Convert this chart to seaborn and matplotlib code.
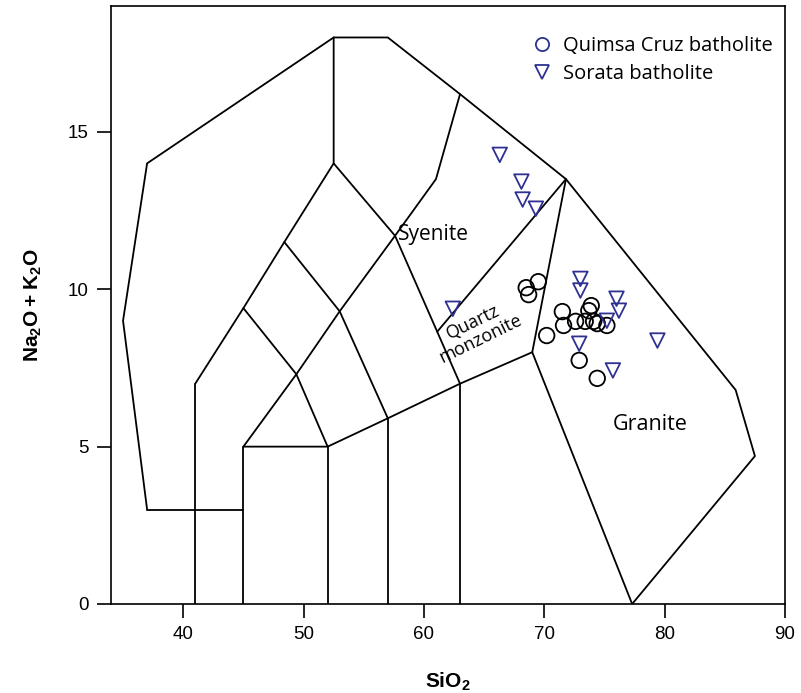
import matplotlib
matplotlib.use("Agg")
import matplotlib.pyplot as plt
from matplotlib.lines import Line2D
import seaborn as sns
import pandas as pd

# Quimsa Cruz batholite (SiO2, Na2O+K2O)
qc_sio2 = [68.5, 68.7, 69.5, 71.5, 71.6, 72.6, 73.4, 73.7, 73.9, 74.1, 74.4, 75.2, 70.2, 72.9, 74.4]
qc_alk = [10.05, 9.83, 10.24, 9.29, 8.85, 8.98, 8.98, 9.32, 9.48, 8.98, 8.91, 8.85, 8.53, 7.74, 7.17]

# Sorata batholite
so_sio2 = [66.3, 68.1, 68.2, 69.3, 62.4, 73.0, 73.0, 76.0, 76.2, 75.2, 72.9, 75.7, 79.4]
so_alk = [14.27, 13.42, 12.85, 12.56, 9.38, 10.33, 9.96, 9.70, 9.32, 9.00, 8.27, 7.42, 8.37]

# TAS (Middlemost 1994, plutonic) field boundaries
field_lines = [
    [(41, 0), (41, 7)],
    [(37, 3), (45, 3)],
    [(45, 0), (45, 5)],
    [(52, 0), (52, 5)],
    [(57, 0), (57, 5.9)],
    [(63, 0), (63, 7)],
    [(45, 5), (52, 5), (57, 5.9), (63, 7), (69, 8), (77.3, 0)],
    [(37, 3), (35, 9), (37, 14), (52.5, 18), (57, 18), (63, 16.2), (71.8, 13.5),
     (85.9, 6.8), (87.5, 4.7), (77.3, 0)],
    [(41, 7), (45, 9.4), (48.4, 11.5), (52.5, 14), (52.5, 18)],
    [(45, 5), (49.4, 7.3), (53, 9.3), (57.6, 11.7), (61, 13.5), (63, 16.2)],
    [(45, 9.4), (49.4, 7.3), (52, 5)],
    [(48.4, 11.5), (53, 9.3), (57, 5.9)],
    [(52.5, 14), (57.6, 11.7), (63, 7)],
    [(69, 8), (71.8, 13.5)],
    [(61.1, 8.65), (71.8, 13.5)],
]

navy = "#2e3192"

sns.set_style("ticks")
plt.rcParams["font.family"] = ["Liberation Sans", "DejaVu Sans"]
plt.rcParams["mathtext.fontset"] = "custom"
plt.rcParams["mathtext.rm"] = "Liberation Sans"
plt.rcParams["mathtext.bf"] = "Liberation Sans:bold"
plt.rcParams["text.color"] = "black"
plt.rcParams["axes.labelcolor"] = "black"
plt.rcParams["xtick.color"] = "black"
plt.rcParams["ytick.color"] = "black"
plt.rcParams["axes.edgecolor"] = "black"

fig = plt.figure(figsize=(8.01, 6.93), dpi=100)
ax = fig.add_axes([111 / 801, 1 - 604 / 693, 674 / 801, 598 / 693])

for seg in field_lines:
    xs, ys = zip(*seg)
    ax.plot(xs, ys, color="black", lw=1.3, solid_joinstyle="miter", zorder=1)

qc = pd.DataFrame({"SiO2": qc_sio2, "alk": qc_alk})
so = pd.DataFrame({"SiO2": so_sio2, "alk": so_alk})
sns.scatterplot(data=qc, x="SiO2", y="alk", marker="o", s=125, facecolor="none",
                edgecolor="black", linewidth=1.3, ax=ax, legend=False, zorder=3)
sns.scatterplot(data=so, x="SiO2", y="alk", marker="v", s=110, facecolor="none",
                edgecolor=navy, linewidth=1.3, ax=ax, legend=False, zorder=3)

lab_font = ["Open Sans", "DejaVu Sans"]
ax.text(60.8, 11.75, "Syenite", fontsize=15, ha="center", va="center", family=lab_font)
ax.text(78.8, 5.7, "Granite", fontsize=15.5, ha="center", va="center", family=lab_font)
ax.text(64.4, 8.7, "Quartz\nmonzonite", fontsize=13, ha="center", va="center",
        rotation=26, linespacing=1.05, family=lab_font, rotation_mode="anchor")

handles = [
    Line2D([], [], ls="none", marker="o", ms=9.5, mfc="none", mec=navy, mew=1.3),
    Line2D([], [], ls="none", marker="v", ms=9.5, mfc="none", mec=navy, mew=1.3),
]
ax.legend(handles, ["Quimsa Cruz batholite", "Sorata batholite"], loc="upper right",
          bbox_to_anchor=(1.0, 0.97), frameon=False,
          prop={"family": lab_font, "size": 14.5}, handletextpad=0.45,
          borderaxespad=0.2, labelspacing=0.4, handlelength=1.2)

ax.set_xlim(34, 90)
ax.set_ylim(0, 19)
ax.set_xticks([40, 50, 60, 70, 80, 90])
ax.set_yticks([0, 5, 10, 15])
ax.tick_params(direction="out", length=10, width=1.2, labelsize=13.5, pad=6)
for sp in ax.spines.values():
    sp.set_linewidth(1.2)

ax.set_xlabel(r"$\mathbf{SiO_2}$", fontsize=15, labelpad=20)
ax.set_ylabel(r"$\mathbf{Na_2O + K_2O}$", fontsize=15, labelpad=17)

fig.savefig("out.png", dpi=100)
